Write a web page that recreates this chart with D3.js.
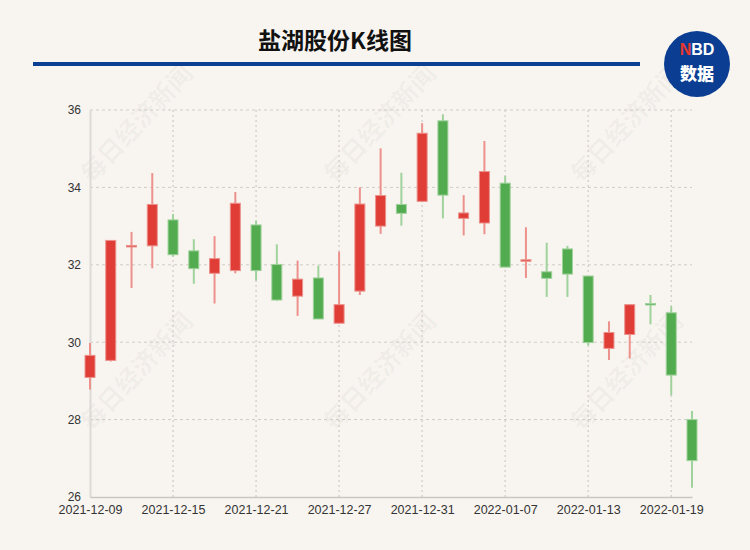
<!DOCTYPE html>
<html>
<head>
<meta charset="utf-8">
<script src="https://cdn.jsdelivr.net/npm/d3@7/dist/d3.min.js"></script>
<style>
  html, body { margin: 0; padding: 0; background: #f8f5f0; }
  svg { display: block; }
</style>
</head>
<body>
<script>
const dates = ["2021-12-09","2021-12-10","2021-12-13","2021-12-14","2021-12-15","2021-12-16","2021-12-17","2021-12-20","2021-12-21","2021-12-22","2021-12-23","2021-12-24","2021-12-27","2021-12-28","2021-12-29","2021-12-30","2021-12-31","2022-01-04","2022-01-05","2022-01-06","2022-01-07","2022-01-10","2022-01-11","2022-01-12","2022-01-13","2022-01-14","2022-01-17","2022-01-18","2022-01-19","2022-01-20"];
const openV  = [29.09,29.53,32.47,32.49,33.16,32.36,31.78,31.85,33.03,32.01,31.19,31.66,30.49,31.32,33.00,33.56,33.64,35.72,33.20,33.08,34.11,32.10,31.82,32.41,31.71,29.84,30.20,31.00,30.76,28.00];
const closeV = [29.66,32.63,32.50,33.56,32.26,31.90,32.16,33.59,31.85,31.09,31.63,30.60,30.97,33.57,33.79,33.33,35.40,33.80,33.34,34.41,31.94,32.13,31.65,31.76,29.99,30.25,30.97,30.97,29.15,26.94];
const highV  = [29.98,32.63,32.85,34.37,33.31,32.66,32.74,33.88,33.14,32.53,32.11,31.98,32.34,34.00,35.01,34.38,35.66,35.89,33.80,35.20,34.30,32.97,32.57,32.49,31.71,30.54,30.97,31.22,30.93,28.22];
const lowV   = [28.78,29.50,31.40,31.91,32.21,31.51,31.00,31.78,31.59,31.07,30.68,30.60,30.49,31.22,32.80,33.01,33.62,33.20,32.76,32.79,31.94,31.66,31.17,31.17,29.92,29.54,29.58,30.46,28.63,26.24];
const yTicks = [26,28,30,32,34,36];
const xTickLabels = ["2021-12-09","2021-12-15","2021-12-21","2021-12-27","2021-12-31","2022-01-07","2022-01-13","2022-01-19"];
const title = "盐湖股份K线图";
const watermark = "每日经济新闻";

const W = 750, H = 550;
const svg = d3.select("body").append("svg").attr("width", W).attr("height", H);
svg.append("rect").attr("width", W).attr("height", H).attr("fill", "#f8f5f0");

const x = d3.scalePoint().domain(dates).range([90, 692]);
const y = d3.scaleLinear().domain([26, 36]).range([497, 110]);

// watermarks
const wmX = [135, 378, 625], wmY = [122, 370];
wmY.forEach(wy => wmX.forEach(wx => {
  svg.append("text")
    .attr("transform", `translate(${wx},${wy}) rotate(-47)`)
    .attr("text-anchor", "middle").attr("dominant-baseline", "central")
    .attr("font-family", "'Noto Sans CJK SC', sans-serif")
    .attr("font-size", 25).attr("font-weight", 700)
    .attr("fill", "#000").attr("fill-opacity", 0.045)
    .text(watermark);
}));

// title
svg.append("text").attr("x", 335).attr("y", 39)
  .attr("text-anchor", "middle").attr("dominant-baseline", "central")
  .attr("font-family", "'Noto Sans CJK SC', sans-serif")
  .attr("font-size", 23).attr("font-weight", 700).attr("fill", "#111")
  .text(title);
svg.append("rect").attr("x", 33).attr("y", 62).attr("width", 607).attr("height", 4).attr("fill", "#0a3f93");

// logo
const logo = svg.append("g").attr("transform", "translate(697,64)");
logo.append("circle").attr("r", 33).attr("fill", "#0b3e92");
const nbd = logo.append("text").attr("y", -9).attr("text-anchor", "middle")
  .attr("font-family", "'Liberation Sans', Arial, sans-serif").attr("font-size", 16).attr("font-weight", 700);
nbd.append("tspan").attr("fill", "#e8372f").text("N");
nbd.append("tspan").attr("fill", "#fff").text("BD");
logo.append("text").attr("y", 16).attr("text-anchor", "middle")
  .attr("font-family", "'Noto Sans CJK SC', sans-serif").attr("font-size", 17).attr("font-weight", 900)
  .attr("fill", "#fff").text("数据");

// grid
const grid = svg.append("g");
yTicks.filter(t => t !== 26).forEach(t => {
  grid.append("line").attr("x1", 90).attr("x2", 692).attr("y1", y(t)).attr("y2", y(t))
    .attr("stroke", "#cfcbc6").attr("stroke-width", 1).attr("stroke-dasharray", "3,3");
});
xTickLabels.filter((d, i) => i > 0).forEach(d => {
  grid.append("line").attr("x1", x(d)).attr("x2", x(d)).attr("y1", 110).attr("y2", 497)
    .attr("stroke", "#d6d2cd").attr("stroke-width", 1.5).attr("stroke-dasharray", "2,3");
});

// axes
const yAxis = d3.axisLeft(y).tickValues(yTicks).tickSize(0).tickPadding(9);
const gy = svg.append("g").attr("transform", "translate(90,0)").call(yAxis);
gy.select(".domain").attr("stroke", "#dcdad6").attr("stroke-width", 2);
gy.selectAll("text").attr("font-family", "'Liberation Sans', Arial, sans-serif").attr("font-size", 12).attr("fill", "#333");

const xAxis = d3.axisBottom(x).tickValues(xTickLabels).tickSize(0).tickPadding(8);
const gx = svg.append("g").attr("transform", "translate(0,497)").call(xAxis);
gx.select(".domain").attr("stroke", "#c9c6c2").attr("stroke-width", 1.5);
gx.selectAll("text").attr("font-family", "'Liberation Sans', Arial, sans-serif").attr("font-size", 12.5).attr("fill", "#333");

// candles
const data = dates.map((d, i) => ({ d, o: openV[i], c: closeV[i], h: highV[i], l: lowV[i] }));
const up = "#df3d36", down = "#52ab4f";
const upWick = "#ec918c", downWick = "#a0d29c";
const bw = 10;
const cg = svg.append("g");
cg.selectAll("line.wick").data(data).enter().append("line")
  .attr("x1", d => x(d.d)).attr("x2", d => x(d.d))
  .attr("y1", d => y(d.h)).attr("y2", d => y(d.l))
  .attr("stroke", d => d.c >= d.o ? upWick : downWick).attr("stroke-width", 2);
cg.selectAll("rect.body").data(data).enter().append("rect")
  .attr("x", d => x(d.d) - bw / 2)
  .attr("y", d => y(Math.max(d.o, d.c)))
  .attr("width", bw)
  .attr("height", d => Math.max(1.5, Math.abs(y(d.o) - y(d.c))))
  .attr("fill", d => d.c >= d.o ? up : down)
  .attr("stroke", d => d.c >= d.o ? upWick : downWick).attr("stroke-width", 1);
</script>
</body>
</html>
